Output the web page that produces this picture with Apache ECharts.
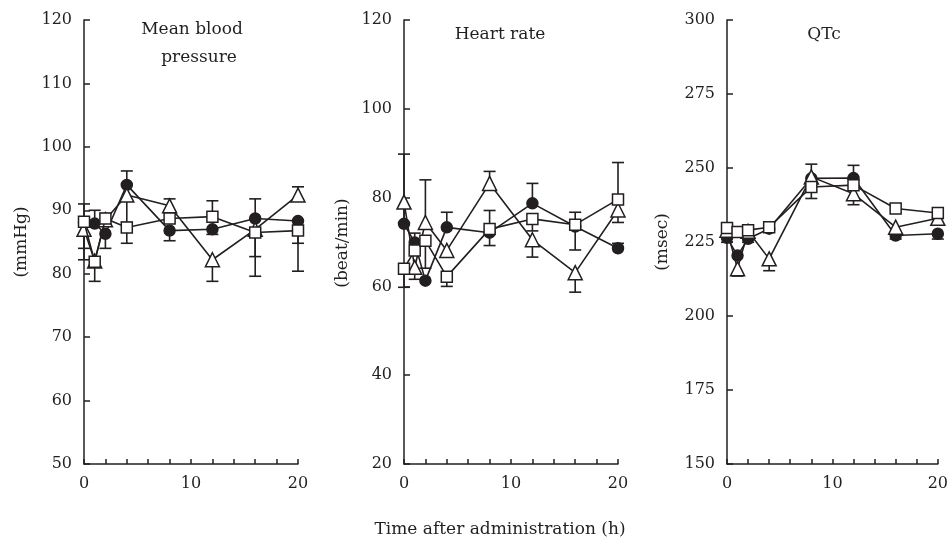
<!DOCTYPE html>
<html>
<head>
<meta charset="utf-8">
<script src="https://cdn.jsdelivr.net/npm/echarts@6/dist/echarts.min.js"></script>
<style>
  html, body { margin: 0; background: #fff; }
  #chart { width: 951px; height: 549px; }
</style>
</head>
<body>
<div id="chart"></div>
<script>
const times = [0, 1, 2, 4, 8, 12, 16, 20]

// Mean blood pressure (mmHg)
const mbpCircle = [88.1, 87.9, 86.3, 94.0, 86.8, 87.0, 88.7, 88.3]
const mbpSquare = [88.2, 81.9, 88.7, 87.3, 88.7, 89.0, 86.5, 86.8]
const mbpTriangle = [87.0, 82.0, 88.5, 92.4, 90.7, 82.2, 87.0, 92.4]
// SE: positive = bar drawn up, negative = drawn down, 0 = none
const mbpCircleSE = [-5.9, 2.1, -2.3, 2.2, -1.6, -0.8, 3.1, -3.5]
const mbpSquareSE = [2.8, -3.1, 0.8, -2.5, 0, 2.5, -3.8, -6.4]
const mbpTriangleSE = [-3.0, 0, 0, -4.3, 1.1, -3.4, -7.4, 1.3]

// Heart rate (beat/min)
const hrCircle = [74.1, 69.9, 61.3, 73.3, 72.1, 78.7, 73.5, 68.6]
const hrSquare = [64.0, 68.1, 70.3, 62.2, 72.9, 75.2, 73.9, 79.6]
const hrTriangle = [79.0, 64.3, 74.4, 68.1, 83.2, 70.5, 63.1, 77.2]
const hrCircleSE = [4.0, 0, 0, 3.4, -2.9, 4.5, -5.3, 1.1]
const hrSquareSE = [-4.2, 3.9, -6.2, -2.2, 4.2, -2.7, 2.8, 8.3]
const hrTriangleSE = [10.8, -2.7, 9.6, 0, 2.7, -3.9, -4.4, -2.8]

// QTc (msec)
const qtcCircle = [226.4, 220.4, 226.1, 229.5, 246.5, 246.6, 227.2, 227.8]
const qtcSquare = [229.7, 228.4, 229.0, 230.0, 243.6, 244.2, 236.3, 234.8]
const qtcTriangle = [229.0, 216.0, 228.6, 219.3, 247.0, 241.3, 230.0, 233.0]
const qtcCircleSE = [-1.5, 0, -1.2, 0, 0, 4.3, -1.2, -1.8]
const qtcSquareSE = [0, 0, 0, 1.5, -3.9, 0, 0, 0]
const qtcTriangleSE = [0, -2.5, 0, -4.0, 4.3, -3.7, 0, 0.5]

const ink = '#231f20'
const font = 'DejaVu Serif'

const panels = [
  { left: 84, min: 50, max: 120, interval: 10,
    circle: mbpCircle, square: mbpSquare, triangle: mbpTriangle,
    circleSE: mbpCircleSE, squareSE: mbpSquareSE, triangleSE: mbpTriangleSE },
  { left: 404, min: 20, max: 120, interval: 20,
    circle: hrCircle, square: hrSquare, triangle: hrTriangle,
    circleSE: hrCircleSE, squareSE: hrSquareSE, triangleSE: hrTriangleSE },
  { left: 727, min: 150, max: 300, interval: 25,
    circle: qtcCircle, square: qtcSquare, triangle: qtcTriangle,
    circleSE: qtcCircleSE, squareSE: qtcSquareSE, triangleSE: qtcTriangleSE }
]

const errData = (mean, se) =>
  times.map((t, i) => (se[i] ? [t, mean[i], mean[i] + se[i]] : null)).filter(Boolean)

const renderErr = (params, api) => {
  const p0 = api.coord([api.value(0), api.value(1)])
  const p1 = api.coord([api.value(0), api.value(2)])
  const style = { stroke: ink, lineWidth: 1.6 }
  return {
    type: 'group',
    children: [
      { type: 'line', shape: { x1: p0[0], y1: p0[1], x2: p1[0], y2: p1[1] }, style },
      { type: 'line', shape: { x1: p1[0] - 6, y1: p1[1], x2: p1[0] + 6, y2: p1[1] }, style }
    ]
  }
}

const lineSeries = (idx, vals, symbol, size, fill, z) => ({
  type: 'line',
  xAxisIndex: idx,
  yAxisIndex: idx,
  data: times.map((t, i) => [t, vals[i]]),
  symbol,
  symbolSize: size,
  itemStyle: { color: fill, borderColor: ink, borderWidth: 1.5 },
  lineStyle: { color: ink, width: 1.6 },
  z
})

const grids = []
const xAxes = []
const yAxes = []
const series = []

panels.forEach((p, idx) => {
  grids.push({ left: p.left, top: 20, width: 214, height: 444 })
  xAxes.push({
    type: 'value', gridIndex: idx, min: 0, max: 20, interval: 2,
    axisLine: { lineStyle: { color: ink, width: 1.5 } },
    axisTick: { inside: true, length: 5, lineStyle: { color: ink, width: 1.5 } },
    axisLabel: {
      color: ink, fontFamily: font, fontSize: 16, margin: 12,
      formatter: v => (v % 10 === 0 ? String(v) : '')
    },
    splitLine: { show: false }
  })
  yAxes.push({
    type: 'value', gridIndex: idx, min: p.min, max: p.max, interval: p.interval,
    axisLine: { show: true, lineStyle: { color: ink, width: 1.5 } },
    axisTick: { show: true, inside: true, length: 6, lineStyle: { color: ink, width: 1.5 } },
    axisLabel: { color: ink, fontFamily: font, fontSize: 16, margin: 12 },
    splitLine: { show: false }
  })
  const errs = [].concat(
    errData(p.triangle, p.triangleSE),
    errData(p.circle, p.circleSE),
    errData(p.square, p.squareSE)
  )
  series.push({
    type: 'custom', xAxisIndex: idx, yAxisIndex: idx,
    renderItem: renderErr, data: errs,
    encode: { x: 0, y: [1, 2] }, z: 1, clip: false
  })
  // drawing order: circles under triangles, squares on top
  series.push(lineSeries(idx, p.circle, 'circle', 11, ink, 2))
  series.push(lineSeries(idx, p.triangle, 'triangle', 14, '#fff', 3))
  series.push(lineSeries(idx, p.square, 'rect', 11, '#fff', 4))
})

const label = (text, x, y) => ({
  type: 'text', x, y,
  style: { text, fill: ink, font: `17px "${font}"`, align: 'center', verticalAlign: 'middle' }
})
const vLabel = (text, x, y) => Object.assign(label(text, x, y), { rotation: Math.PI / 2 })

const chart = echarts.init(document.getElementById('chart'))
chart.setOption({
  animation: false,
  backgroundColor: '#fff',
  grid: grids,
  xAxis: xAxes,
  yAxis: yAxes,
  series,
  graphic: [
    label('Mean blood', 192, 30),
    label('pressure', 199, 58),
    label('Heart rate', 500, 35),
    label('QTc', 824, 35),
    label('Time after administration (h)', 500, 530),
    vLabel('(mmHg)', 22, 242),
    vLabel('(beat/min)', 343, 243),
    vLabel('(msec)', 663, 242)
  ]
})
</script>
</body>
</html>
